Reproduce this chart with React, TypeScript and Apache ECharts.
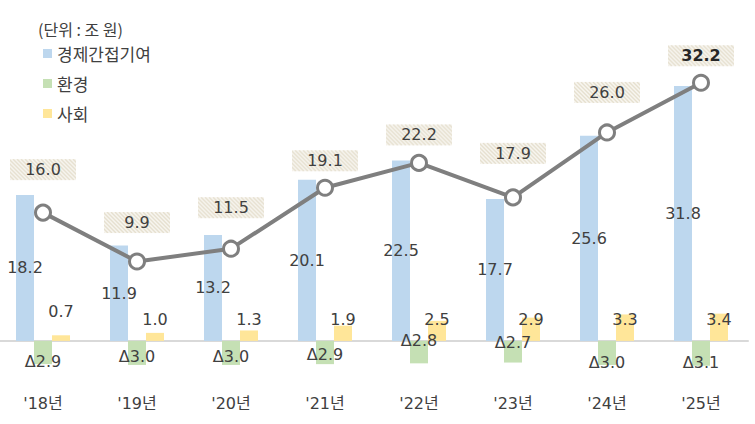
import React, { useEffect, useRef } from 'react';
import * as echarts from 'echarts';

const years = ["'18년", "'19년", "'20년", "'21년", "'22년", "'23년", "'24년", "'25년"];
const indirect = [18.2, 11.9, 13.2, 20.1, 22.5, 17.7, 25.6, 31.8];
const environment = [-2.9, -3.0, -3.0, -2.9, -2.8, -2.7, -3.0, -3.1];
const social = [0.7, 1.0, 1.3, 1.9, 2.5, 2.9, 3.3, 3.4];
const total = [16.0, 9.9, 11.5, 19.1, 22.2, 17.9, 26.0, 32.2];

// label nudges (the original labels were placed by hand)
const envLabelShift = [9, 4, 4, 2, -12, -9, 10, 9];
const socialLabelLift = [21, 13, 13, 13, 13, 13, 13, 13];
const totalLabelGap = [23.5, 19.5, 21.5, 7.5, 8.5, 24.5, 20.5, 7.5];

const FONT = "'Noto Sans CJK KR', 'Noto Sans', sans-serif";
const NUM_FONT = "'DejaVu Sans', 'Noto Sans CJK KR', sans-serif";
const TEXT = '#404040';

// hatched box behind the total labels
function hatch(w: number, h: number): string {
  const c = document.createElement('canvas');
  c.width = w;
  c.height = h;
  const ctx = c.getContext('2d');
  if (!ctx) return '';
  ctx.fillStyle = '#f8f6f0';
  ctx.fillRect(0, 0, w, h);
  ctx.strokeStyle = '#e6e0cf';
  ctx.lineWidth = 1.4;
  for (let x = -h; x < w + h; x += 4) {
    ctx.beginPath();
    ctx.moveTo(x, 0);
    ctx.lineTo(x + h, h);
    ctx.stroke();
  }
  return c.toDataURL();
}

const numLabel = {
  show: true,
  fontSize: 16,
  color: TEXT,
  fontFamily: NUM_FONT,
};

const App: React.FC = () => {
  const chartRef = useRef<HTMLDivElement>(null);

  useEffect(() => {
    if (!chartRef.current) return;
    const chart = echarts.init(chartRef.current, undefined, { renderer: 'svg' });
    const boxImg = hatch(66, 21);

    const option = {
      animation: false,
      textStyle: { fontFamily: FONT, color: TEXT },
      title: {
        text: '(단위 : 조 원)',
        left: 33,
        top: 16,
        textStyle: { fontFamily: FONT, fontSize: 16, fontWeight: 'normal', color: TEXT },
      },
      legend: {
        data: ['경제간접기여', '환경', '사회'],
        orient: 'vertical',
        left: 38,
        top: 40,
        itemWidth: 9,
        itemHeight: 9,
        itemGap: 13,
        itemTextGap: 3,
        icon: 'rect',
        textStyle: { fontFamily: FONT, fontSize: 17, color: TEXT },
      },
      grid: { left: -4, right: 7, top: 20.2, bottom: 35, outerBoundsMode: 'none' },
      xAxis: {
        type: 'category',
        data: years,
        axisLine: { onZero: true, lineStyle: { color: '#d9d9d9', width: 2 } },
        axisTick: { show: false },
        axisLabel: { margin: 6, fontSize: 16, color: TEXT, fontFamily: NUM_FONT },
      },
      yAxis: {
        type: 'value',
        min: -6,
        max: 40,
        show: false,
        splitLine: { show: false },
      },
      series: [
        {
          name: '경제간접기여',
          type: 'bar',
          data: indirect,
          barWidth: 18,
          barGap: '0%',
          itemStyle: { color: '#bdd7ee' },
          label: {
            ...numLabel,
            position: 'inside',
            formatter: (p: any) => p.value.toFixed(1),
          },
        },
        {
          name: '환경',
          type: 'bar',
          data: environment.map((v, i) => ({
            value: v,
            label: { offset: [0, envLabelShift[i]] },
          })),
          barWidth: 18,
          barGap: '0%',
          itemStyle: { color: '#c5e0b4' },
          label: {
            ...numLabel,
            position: 'inside',
            formatter: (p: any) => 'Δ' + Math.abs(p.value).toFixed(1),
          },
        },
        {
          name: '사회',
          type: 'bar',
          data: social.map((v, i) => ({
            value: v,
            label: { distance: socialLabelLift[i] },
          })),
          barWidth: 18,
          barGap: '0%',
          itemStyle: { color: '#ffe699' },
          label: {
            ...numLabel,
            position: 'insideBottom',
            formatter: (p: any) => p.value.toFixed(1),
          },
        },
        {
          name: '합계',
          type: 'line',
          data: total.map((v, i) => ({
            value: v,
            label: {
              distance: totalLabelGap[i],
              ...(i === total.length - 1 ? { fontWeight: 'bold', color: '#262626' } : {}),
            },
          })),
          z: 5,
          symbol: 'circle',
          symbolSize: 15,
          lineStyle: { color: '#7f7f7f', width: 4 },
          itemStyle: { color: '#ffffff', borderColor: '#7f7f7f', borderWidth: 3 },
          label: {
            ...numLabel,
            position: 'top',
            width: 66,
            height: 21,
            lineHeight: 21,
            align: 'center',
            backgroundColor: { image: boxImg },
            formatter: (p: any) => p.value.toFixed(1),
          },
        },
      ],
    };

    chart.setOption(option);
    return () => {
      chart.dispose();
    };
  }, []);

  return (
    <div
      ref={chartRef}
      style={{ position: 'absolute', left: 0, top: 0, width: '755px', height: '424px' }}
    />
  );
};

export default App;
